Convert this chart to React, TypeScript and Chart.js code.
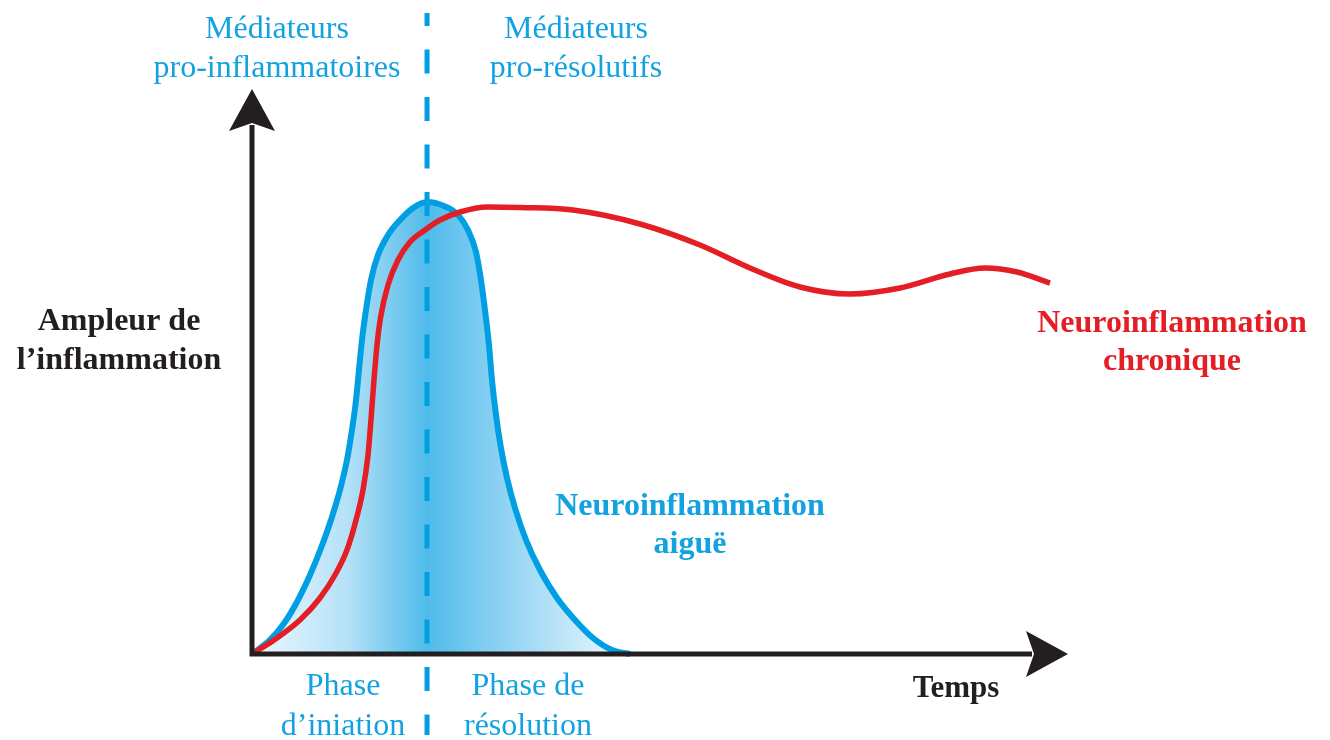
import { useEffect, useRef } from "react";
import { Chart, registerables } from "chart.js";

Chart.register(...registerables);

// Acute neuroinflammation (blue bell curve): time vs amplitude
const acuteTime = [0, 2.21, 4.04, 5.64, 7.11, 8.46, 9.68, 10.78, 11.64, 12.25, 12.75, 13.11, 13.48, 13.97, 14.58, 15.44, 16.67, 18.14, 19.73, 21.5, 23.53, 25.25, 26.47, 27.45, 28.06, 28.55, 29.04, 29.41, 29.9, 30.51, 31.25, 32.23, 33.58, 35.29, 37.38, 39.58, 41.79, 44.12, 46.32];
const acuteAmp = [0, 2.48, 5.66, 9.56, 13.98, 18.76, 23.72, 29.03, 34.34, 39.65, 44.96, 50.27, 55.58, 60.88, 66.19, 70.62, 74.16, 76.81, 78.94, 80.0, 79.29, 77.7, 75.04, 71.15, 66.19, 60.88, 54.69, 48.5, 42.3, 36.46, 31.15, 25.84, 20.18, 14.87, 9.91, 6.02, 2.83, 0.71, 0];

// Chronic neuroinflammation (red curve)
const chronicTime = [0, 2.7, 5.88, 8.33, 10.17, 11.64, 12.75, 13.6, 14.22, 14.58, 14.95, 15.32, 15.81, 16.67, 17.89, 19.36, 21.2, 23.04, 25.49, 28.8, 32.84, 39.34, 47.55, 54.9, 61.03, 67.16, 73.28, 79.41, 85.54, 89.83, 93.75, 97.79];
const chronicAmp = [0, 2.48, 6.02, 9.91, 13.98, 18.41, 23.72, 29.03, 35.22, 41.42, 48.5, 54.69, 60.0, 65.31, 69.73, 72.92, 75.04, 76.81, 78.23, 79.12, 79.03, 78.58, 76.11, 72.39, 68.32, 64.96, 63.72, 64.78, 67.26, 68.32, 67.61, 65.66];

// Boundary between initiation and resolution phases
const dividerTime = 21.45;

const topLeftLabel = ["Médiateurs", "pro-inflammatoires"];
const topRightLabel = ["Médiateurs", "pro-résolutifs"];
const bottomLeftLabel = ["Phase", "d’iniation"];
const bottomRightLabel = ["Phase de", "résolution"];
const yAxisLabel = ["Ampleur de", "l’inflammation"];
const xAxisLabel = "Temps";
const acuteLabel = ["Neuroinflammation", "aiguë"];
const chronicLabel = ["Neuroinflammation", "chronique"];

const BLUE = "#009fe3";
const BLUE_TEXT = "#12a2e2";
const RED = "#e31e25";
const BLACK = "#231f20";
const SERIF = '"Liberation Serif", "Times New Roman", serif';

export default function App() {
  const ref = useRef<HTMLCanvasElement>(null);

  useEffect(() => {
    const canvas = ref.current;
    if (!canvas) return;

    const arrow = (ctx: CanvasRenderingContext2D, tx: number, ty: number, dir: "up" | "right") => {
      const len = 42, half = 23, notch = 34;
      ctx.beginPath();
      if (dir === "up") {
        ctx.moveTo(tx, ty);
        ctx.lineTo(tx + half, ty + len);
        ctx.lineTo(tx, ty + notch);
        ctx.lineTo(tx - half, ty + len);
      } else {
        ctx.moveTo(tx, ty);
        ctx.lineTo(tx - len, ty - half);
        ctx.lineTo(tx - notch, ty);
        ctx.lineTo(tx - len, ty + half);
      }
      ctx.closePath();
      ctx.fill();
    };

    const lines = (ctx: CanvasRenderingContext2D, arr: string[], x: number, y: number, gap: number) => {
      arr.forEach((t, i) => ctx.fillText(t, x, y + i * gap));
    };

    const overlay = {
      id: "overlay",
      afterDatasetDraw(chart: any, args: any) {
        if (args.index !== 1) return;
        const ctx = chart.ctx as CanvasRenderingContext2D;
        const x = chart.scales.x.getPixelForValue(dividerTime);
        ctx.save();
        ctx.strokeStyle = BLUE;
        ctx.lineWidth = 5;
        ctx.setLineDash([24, 23.5]);
        ctx.lineDashOffset = 11;
        ctx.beginPath();
        ctx.moveTo(x, 13);
        ctx.lineTo(x, 735);
        ctx.stroke();
        ctx.restore();
      },
      afterDatasetsDraw(chart: any) {
        const ctx = chart.ctx as CanvasRenderingContext2D;
        const { left, top, right, bottom } = chart.chartArea;
        ctx.save();
        ctx.strokeStyle = BLACK;
        ctx.fillStyle = BLACK;
        ctx.lineWidth = 5;
        ctx.lineCap = "butt";
        ctx.beginPath();
        ctx.moveTo(left, bottom + 2.5);
        ctx.lineTo(left, top + 36);
        ctx.moveTo(left - 2.5, bottom);
        ctx.lineTo(right - 36, bottom);
        ctx.stroke();
        arrow(ctx, left, top, "up");
        arrow(ctx, right, bottom, "right");
        ctx.restore();
      },
      afterDraw(chart: any) {
        const ctx = chart.ctx as CanvasRenderingContext2D;
        ctx.save();
        ctx.textAlign = "center";
        ctx.textBaseline = "alphabetic";
        ctx.font = `32px ${SERIF}`;
        ctx.fillStyle = BLUE_TEXT;
        lines(ctx, topLeftLabel, 277, 38, 39);
        lines(ctx, topRightLabel, 576, 38, 39);
        lines(ctx, bottomLeftLabel, 343, 695, 40);
        lines(ctx, bottomRightLabel, 528, 695, 40);
        ctx.font = `bold 32px ${SERIF}`;
        lines(ctx, acuteLabel, 690, 515, 38);
        ctx.fillStyle = RED;
        lines(ctx, chronicLabel, 1172, 332, 38);
        ctx.fillStyle = BLACK;
        lines(ctx, yAxisLabel, 119, 330, 39);
        ctx.font = `bold 31px ${SERIF}`;
        ctx.fillText(xAxisLabel, 956, 697);
        ctx.restore();
      },
    };

    const acuteFill = (c: any) => {
      const chart = c.chart;
      if (!chart.chartArea) return "rgba(0,159,227,0.5)";
      const xs = chart.scales.x;
      const x0 = xs.getPixelForValue(acuteTime[0]);
      const x1 = xs.getPixelForValue(acuteTime[acuteTime.length - 1]);
      const xm = xs.getPixelForValue(dividerTime);
      const g = chart.ctx.createLinearGradient(x0, 0, x1, 0);
      const mid = (xm - x0) / (x1 - x0);
      g.addColorStop(0, "#eef8fe");
      g.addColorStop(mid * 0.55, "#b4e1f7");
      g.addColorStop(mid, "#4fbbea");
      g.addColorStop(mid + (1 - mid) * 0.35, "#8ad1f2");
      g.addColorStop(mid + (1 - mid) * 0.7, "#c3e7f8");
      g.addColorStop(1, "#f0f9fe");
      return g;
    };

    const chart = new Chart(canvas, {
      type: "line",
      data: {
        datasets: [
          {
            label: "Neuroinflammation chronique",
            data: chronicTime.map((t, i) => ({ x: t, y: chronicAmp[i] })),
            borderColor: RED,
            borderWidth: 5.5,
            pointRadius: 0,
            fill: false,
            cubicInterpolationMode: "monotone",
            clip: false,
          },
          {
            label: "Neuroinflammation aiguë",
            data: acuteTime.map((t, i) => ({ x: t, y: acuteAmp[i] })),
            borderColor: BLUE,
            borderWidth: 6,
            pointRadius: 0,
            fill: "origin",
            backgroundColor: acuteFill,
            cubicInterpolationMode: "monotone",
            clip: false,
          },
        ],
      },
      options: {
        responsive: false,
        animation: false,
        layout: { padding: { left: 252, right: 262, top: 89, bottom: 86 } },
        scales: {
          x: { type: "linear", min: 0, max: 100, display: false },
          y: { type: "linear", min: 0, max: 100, display: false },
        },
        plugins: {
          legend: { display: false },
          tooltip: { enabled: false },
        },
      },
      plugins: [overlay],
    } as any);

    return () => chart.destroy();
  }, []);

  return (
    <div style={{ position: "fixed", left: 0, top: 0, width: 1330, height: 740, background: "#fff" }}>
      <canvas ref={ref} width={1330} height={740} style={{ display: "block" }} />
    </div>
  );
}
